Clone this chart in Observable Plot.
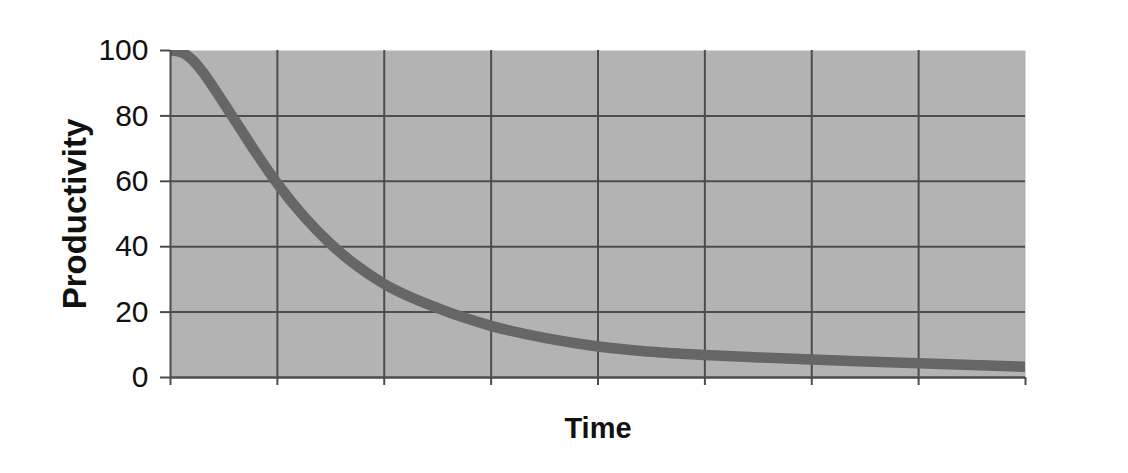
<!DOCTYPE html>
<html>
<head>
<meta charset="utf-8">
<script src="https://cdn.jsdelivr.net/npm/d3@7"></script>
<script src="https://cdn.jsdelivr.net/npm/@observablehq/plot@0.6"></script>
<style>
  html, body { margin: 0; padding: 0; background: #fff; }
  svg { display: block; }
</style>
</head>
<body>
<div id="chart"></div>
<script>
// Data
const time = [0, 0.1, 0.2, 0.3, 0.4, 0.5, 0.6, 0.8, 1.0, 1.25, 1.5, 1.75, 2.0, 2.5, 3.0, 3.5, 4.0, 4.5, 5.0, 5.5, 6.0, 6.5, 7.0, 7.5, 8.0];
const productivity = [100, 99.5, 97.3, 93.5, 88.8, 83.8, 78.8, 68.7, 59.3, 49.2, 40.8, 34.0, 28.6, 21.2, 15.8, 12.1, 9.5, 7.9, 6.9, 6.15, 5.5, 4.9, 4.35, 3.8, 3.3];
const yTicks = [0, 20, 40, 60, 80, 100];
const yGrid = [20, 40, 60, 80];
const xTicks = [0, 1, 2, 3, 4, 5, 6, 7, 8];
const xGrid = [1, 2, 3, 4, 5, 6, 7];
const xLabel = "Time";
const yLabel = "Productivity";

const data = time.map((t, i) => ({t, p: productivity[i]}));
const gridColor = "#4d4d4d";
const font = "'Liberation Sans', Arial, sans-serif";

const chart = Plot.plot({
  width: 1128,
  height: 473,
  marginLeft: 170,
  marginRight: 103,
  marginTop: 50,
  marginBottom: 96,
  style: {fontFamily: font, background: "#fff"},
  x: {domain: [0, 8]},
  y: {domain: [0, 100]},
  marks: [
    Plot.frame({fill: "#b3b3b3", stroke: null}),
    Plot.ruleY(yGrid, {stroke: gridColor, strokeWidth: 2}),
    Plot.ruleX(xGrid, {stroke: gridColor, strokeWidth: 2}),
    Plot.axisY(yTicks, {tickSize: 10, tickPadding: 12, fontSize: 30, stroke: gridColor, strokeWidth: 2, fill: "#111", label: null}),
    Plot.axisX(xTicks, {tickSize: 8, tickFormat: () => "", stroke: gridColor, strokeWidth: 2, label: null}),
    Plot.line(data, {x: "t", y: "p", curve: "monotone-x", stroke: "#666666", strokeWidth: 10.5, clip: true}),
    Plot.ruleY([0], {stroke: gridColor, strokeWidth: 2.5}),
    Plot.ruleX([0], {stroke: gridColor, strokeWidth: 2}),
    Plot.text([xLabel], {frameAnchor: "bottom", textAnchor: "middle", lineAnchor: "middle", dy: 51, fontSize: 29, fontWeight: "bold", fill: "#111"}),
    Plot.text([yLabel], {frameAnchor: "left", textAnchor: "middle", lineAnchor: "middle", dx: -95, rotate: -90, fontSize: 33, fontWeight: "bold", fill: "#111"})
  ]
});
document.getElementById("chart").appendChild(chart);
</script>
</body>
</html>
